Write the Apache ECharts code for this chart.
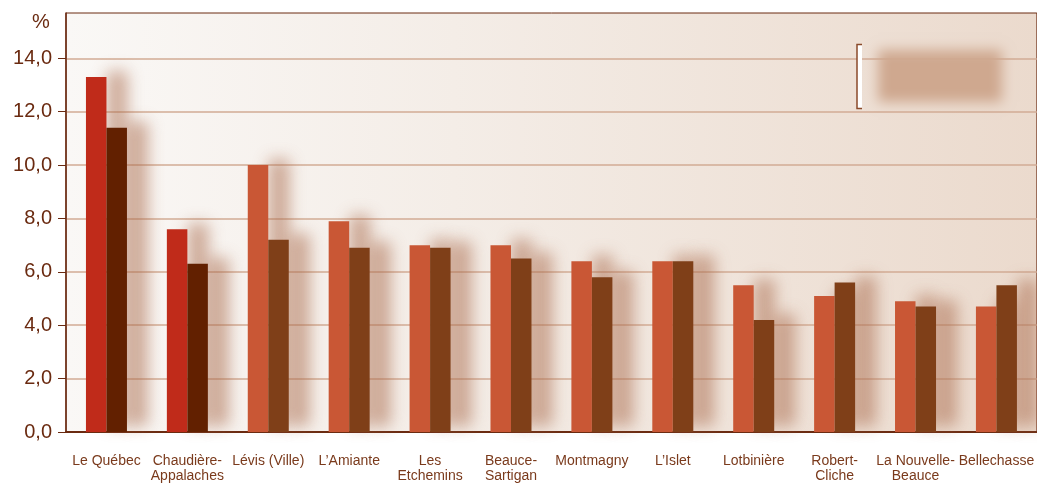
<!DOCTYPE html>
<html>
<head>
<meta charset="utf-8">
<script src="https://cdn.jsdelivr.net/npm/echarts@6/dist/echarts.min.js"></script>
<style>
html,body{margin:0;padding:0;background:#fff;}
#c{width:1037px;height:484px;}
</style>
</head>
<body>
<div id="c"></div>
<script>
const categories = ['Le Québec','Chaudière-\nAppalaches','Lévis (Ville)','L’Amiante','Les\nEtchemins','Beauce-\nSartigan','Montmagny','L’Islet','Lotbinière','Robert-\nCliche','La Nouvelle-\nBeauce','Bellechasse'];
const series1 = [13.3, 7.6, 10.0, 7.9, 7.0, 7.0, 6.4, 6.4, 5.5, 5.1, 4.9, 4.7];
const series2 = [11.4, 6.3, 7.2, 6.9, 6.9, 6.5, 5.8, 6.4, 4.2, 5.6, 4.7, 5.5];
const yTicks = [0, 2, 4, 6, 8, 10, 12, 14];

const chart = echarts.init(document.getElementById('c'), null, {renderer: 'canvas'});
const dark = '#6a2a10';
const shadow = {shadowBlur: 16, shadowColor: 'rgba(170,105,75,0.55)', shadowOffsetX: 21, shadowOffsetY: -6};
chart.setOption({
  animation: false,
  grid: {
    left: 66, right: -4, top: 13, bottom: 46,
    show: true,
    borderColor: dark, borderWidth: 1,
    backgroundColor: new echarts.graphic.LinearGradient(0, 0, 1, 0, [
      {offset: 0, color: '#faf8f6'},
      {offset: 0.4, color: '#f4ede7'},
      {offset: 1, color: '#ebdacd'}
    ])
  },
  xAxis: {
    type: 'category',
    data: categories,
    axisLine: {lineStyle: {color: dark, width: 2}},
    axisTick: {inside: true, length: 6, lineStyle: {color: dark, width: 1}},
    axisLabel: {
      color: '#7a3a1c', fontFamily: 'Liberation Sans, Arial, sans-serif', fontSize: 14,
      lineHeight: 15, margin: 22, interval: 0
    }
  },
  yAxis: {
    type: 'value',
    min: 0, max: 15.7, interval: 2,
    axisLine: {show: true, lineStyle: {color: dark, width: 1.5}},
    axisTick: {show: true, length: 8, lineStyle: {color: dark, width: 1}},
    axisLabel: {
      color: dark, fontFamily: 'Liberation Sans, Arial, sans-serif', fontSize: 20,
      margin: 14, showMaxLabel: false,
      formatter: v => yTicks.includes(v) ? v.toFixed(1).replace('.', ',') : ''
    },
    splitLine: {show: true, showMaxLine: false, lineStyle: {color: '#d2ab95', width: 1.5}}
  },
  series: [
    {
      type: 'bar', data: series1, barWidth: 20.5, barGap: '0%',
      itemStyle: Object.assign({color: p => p.dataIndex < 2 ? '#c02b1a' : '#c95735'}, shadow)
    },
    {
      type: 'bar', data: series2, barWidth: 20.5, barGap: '0%',
      itemStyle: Object.assign({color: p => p.dataIndex < 2 ? '#622000' : '#7f3f18'}, shadow)
    }
  ],
  graphic: [
    {type: 'text', left: 32, top: 12, style: {text: '%', fill: dark, fontSize: 20, fontFamily: 'Liberation Sans, Arial, sans-serif'}},
    {type: 'rect', shape: {x: 878 - 3000, y: 50, width: 124, height: 52}, style: {fill: '#cfa88f', shadowBlur: 12, shadowColor: '#cfa88f', shadowOffsetX: 3000}, z: 1},
    {type: 'rect', shape: {x: 857, y: 44.5, width: 5, height: 64}, style: {fill: '#ffffff'}, z: 3},
    {type: 'polyline', shape: {points: [[862, 44.5], [857, 44.5], [857, 108.5], [862, 108.5]]}, style: {stroke: '#8a4a2a', lineWidth: 1.5, fill: null}, z: 4}
  ]
});
</script>
</body>
</html>
